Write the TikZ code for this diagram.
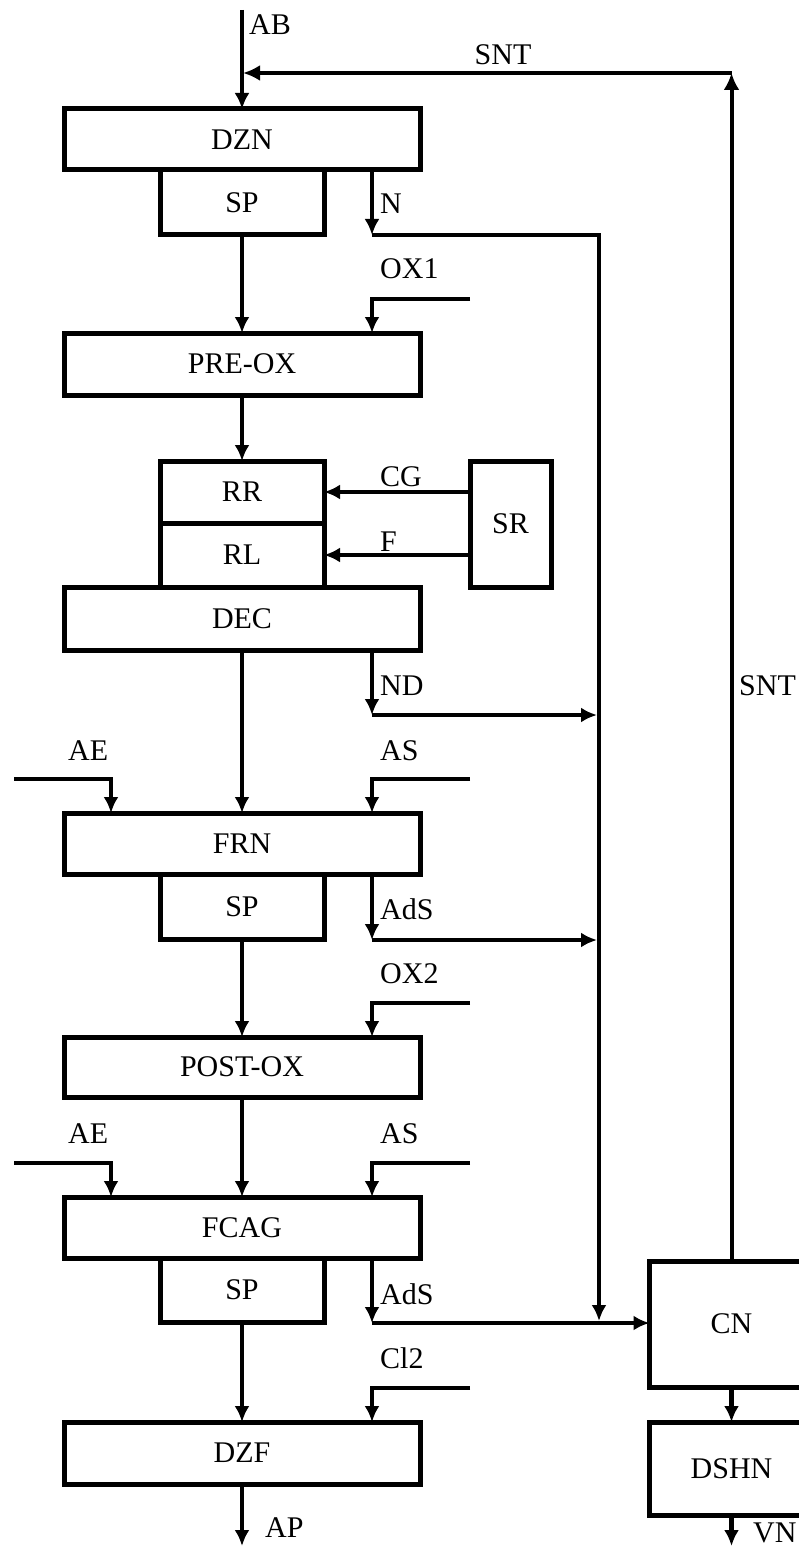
\documentclass[tikz,border=0pt]{standalone}
\usepackage{fontspec}
\setmainfont{Liberation Serif}
\usetikzlibrary{arrows.meta,positioning}

\tikzset{
  blk/.style={draw,line width=5pt,minimum width=356pt,minimum height=61pt,inner sep=0pt,outer sep=0pt},
  sblk/.style={blk,minimum width=164pt,minimum height=64pt},
  lbl/.style={inner sep=0pt,anchor=west},
  flow/.style={line width=3.5pt,-{Latex[length=16pt,width=15pt]}},
  feed/.style={line width=4.5pt,-{Latex[length=16pt,width=15pt]}},
  back/.style={line width=4pt,-{Latex[length=17pt,width=16pt]}},
}

\begin{document}
\begin{tikzpicture}[x=1pt,y=-1pt,font=\fontsize{30}{36}\selectfont]
	\useasboundingbox (0,0) rectangle (798,1546);

	% blocks
	\node[blk] (dzn) at (242,139.5) {DZN};
	\node[sblk,minimum height=65pt] (sp1) at (242,202.5) {SP};
	\node[blk,minimum height=62pt] (preox) at (242,364) {PRE-OX};
	\node[sblk,minimum height=62pt] (rr) at (242,492) {RR};
	\node[sblk] (rl) at (242,555) {RL};
	\node[blk,minimum height=63pt] (dec) at (242,618.5) {DEC};
	\node[blk,minimum width=81pt,minimum height=126pt] (sr) at (510.5,524) {SR};
	\node[blk] (frn) at (242,843.5) {FRN};
	\node[sblk,minimum height=65pt] (sp2) at (242,906.5) {SP};
	\node[blk,minimum height=60pt] (postox) at (242,1067) {POST-OX};
	\node[blk] (fcag) at (242,1227.5) {FCAG};
	\node[sblk] (sp3) at (242,1290) {SP};
	\node[blk,minimum height=62pt] (dzf) at (242,1453) {DZF};
	\node[sblk,minimum height=126pt] (cn) at (731.5,1324) {CN};
	\node[sblk,minimum height=93pt] (dshn) at (731.5,1468.5) {DSHN};

	% free ends
	\coordinate (sx) at (372,0);
	\coordinate (ex) at (111,0);
	\coordinate (bx) at (597,0);
	\coordinate (cx) at (599,0);
	\coordinate (abin) at (242,10);
	\coordinate (sntc) at (731.5,73);
	\coordinate (sntj) at (243,73);
	\coordinate (apout) at (242,1546);
	\coordinate (vnout) at (731.5,1546);
	\coordinate (ox1in) at (470,299);
	\coordinate (ae1in) at (14,779);
	\coordinate (as1in) at (470,779);
	\coordinate (ox2in) at (470,1003);
	\coordinate (ae2in) at (14,1163);
	\coordinate (as2in) at (470,1163);
	\coordinate (cl2in) at (470,1388);
	\coordinate (nj) at (372,235);
	\coordinate (ndj) at (372,715);
	\coordinate (ads1j) at (372,940);
	\coordinate (ads3j) at (372,1323);
	\coordinate (busend) at (599,1321);

	% main line
	\draw[flow] (abin) -- (dzn);
	\draw[flow] (sp1) -- (preox);
	\draw[flow] (preox) -- (rr);
	\draw[flow] (dec) -- (frn);
	\draw[flow] (sp2) -- (postox);
	\draw[flow] (postox) -- (fcag);
	\draw[flow] (sp3) -- (dzf);
	\draw[flow] (dzf) -- (apout);
	\draw[flow] (sr.west |- rr) -- (rr.east);
	\draw[flow] (sr.west |- rl) -- (rl.east);

	% side inputs
	\draw[feed] (ox1in) -- (ox1in -| sx) -- (preox.north -| sx);
	\draw[feed] (ae1in) -- (ae1in -| ex) -- (frn.north -| ex);
	\draw[feed] (as1in) -- (as1in -| sx) -- (frn.north -| sx);
	\draw[feed] (ox2in) -- (ox2in -| sx) -- (postox.north -| sx);
	\draw[feed] (ae2in) -- (ae2in -| ex) -- (fcag.north -| ex);
	\draw[feed] (as2in) -- (as2in -| sx) -- (fcag.north -| sx);
	\draw[feed] (cl2in) -- (cl2in -| sx) -- (dzf.north -| sx);

	% sludge lines
	\draw[feed] (dzn.south -| sx) -- (nj);
	\draw[feed] (nj) -- (nj -| cx) -- (busend);
	\draw[feed] (dec.south -| sx) -- (ndj);
	\draw[feed] (ndj) -- (ndj -| bx);
	\draw[feed] (frn.south -| sx) -- (ads1j);
	\draw[feed] (ads1j) -- (ads1j -| bx);
	\draw[feed] (fcag.south -| sx) -- (ads3j);
	\draw[feed] (ads3j) -- (cn.west |- ads3j);
	\draw[feed] (cn) -- (dshn);
	\draw[feed] (dshn) -- (vnout);

	% return
	\draw[back] (cn.north) -- (sntc);
	\draw[back] (sntc) -- (sntj);

	% labels
	\node[lbl] (lab) at (249,25) {AB};
	\node[inner sep=0pt] (lsnt) at (503,55) {SNT};
	\node[lbl] (lsnt2) at (739,686) {SNT};
	\node[lbl] (ln) at (380,204) {N};
	\node[lbl] (lox1) at (380,269) {OX1};
	\node[lbl] (lcg) at (380,477) {CG};
	\node[lbl] (lf) at (380,542) {F};
	\node[lbl] (lnd) at (380,686) {ND};
	\node[lbl] (lae1) at (68,751) {AE};
	\node[lbl] (las1) at (380,751) {AS};
	\node[lbl] (lads1) at (380,909) {AdS};
	\node[lbl] (lox2) at (380,974) {OX2};
	\node[lbl] (lae2) at (68,1134) {AE};
	\node[lbl] (las2) at (380,1134) {AS};
	\node[lbl] (lads3) at (380,1294) {AdS};
	\node[lbl] (lcl2) at (380,1358) {Cl2};
	\node[lbl] (lap) at (265,1528) {AP};
	\node[lbl] (lvn) at (753,1533) {VN};
\end{tikzpicture}
\end{document}
